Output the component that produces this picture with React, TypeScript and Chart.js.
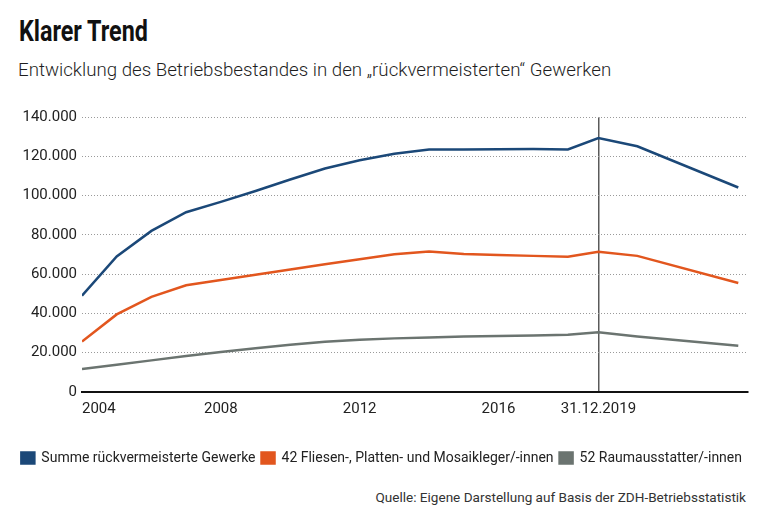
import React, { useEffect, useRef } from "react";
import { Chart, registerables } from "chart.js";

Chart.register(...registerables);

// ---- data ----
const years = [2004, 2005, 2006, 2007, 2008, 2009, 2010, 2011, 2012, 2013, 2014, 2015, 2016, 2017, 2018, 2018.88, 2020, 2022.91];
const summeGewerke = [49000, 69000, 82000, 91500, 96800, 102300, 108200, 113800, 118000, 121300, 123400, 123500, 123600, 123700, 123500, 129300, 125100, 104100];
const fliesenleger = [25700, 39500, 48400, 54300, 57000, 59700, 62400, 65000, 67600, 70100, 71500, 70300, 69700, 69300, 68900, 71400, 69300, 55500];
const raumausstatter = [11700, 13900, 16100, 18300, 20400, 22300, 24000, 25600, 26600, 27300, 27800, 28200, 28500, 28800, 29100, 30400, 28200, 23500];
const seriesLabels = [
  "Summe rückvermeisterte Gewerke",
  "42 Fliesen-, Platten- und Mosaikleger/-innen",
  "52 Raumausstatter/-innen",
];
const xTickValues = [2004, 2008, 2012, 2016, 2018.88];
const xTickLabels = ["2004", "2008", "2012", "2016", "31.12.2019"];
const markValue = 2018.88;
const xMin = 2004;
const xMax = 2023.19;
const yMax = 140000;
const yStep = 20000;

const BLUE = "#1b4878";
const ORANGE = "#e2561e";
const GREY = "#6b7470";
const FONT = "Roboto, 'Noto Sans', sans-serif";

function fmt(v: number): string {
  return String(Math.round(v)).replace(/\B(?=(\d{3})+(?!\d))/g, ".");
}

export default function App() {
  const ref = useRef<HTMLCanvasElement | null>(null);

  useEffect(() => {
    if (!ref.current) return;
    const mk = (vals: number[]) => years.map((x, i) => ({ x, y: vals[i] }));
    const chart = new Chart(ref.current, {
      type: "line",
      data: {
        datasets: [
          { label: seriesLabels[0], data: mk(summeGewerke), borderColor: BLUE, backgroundColor: BLUE, borderWidth: 2.5, pointRadius: 0, tension: 0 },
          { label: seriesLabels[1], data: mk(fliesenleger), borderColor: ORANGE, backgroundColor: ORANGE, borderWidth: 2.5, pointRadius: 0, tension: 0 },
          { label: seriesLabels[2], data: mk(raumausstatter), borderColor: GREY, backgroundColor: GREY, borderWidth: 2.5, pointRadius: 0, tension: 0 },
        ],
      },
      options: {
        animation: false,
        responsive: true,
        maintainAspectRatio: false,
        layout: { padding: { top: 17, right: 20, left: 0, bottom: 0 } },
        plugins: {
          legend: {
            position: "bottom",
            align: "end",
            labels: {
              boxWidth: 13,
              boxHeight: 11,
              padding: 6,
              color: "#222",
              font: { family: FONT, size: 14 },
            },
          },
          tooltip: { enabled: false },
        },
        scales: {
          x: {
            type: "linear",
            min: xMin,
            max: xMax,
            afterBuildTicks: (s: any) => {
              s.ticks = [...xTickValues, xMax].map((v) => ({ value: v }));
            },
            afterFit: (s: any) => {
              s.height = 53;
            },
            ticks: {
              autoSkip: false,
              maxRotation: 0,
              align: "inner",
              padding: 8,
              color: "#222",
              font: { family: FONT, size: 15 },
              callback: (v: any) => {
                const i = xTickValues.indexOf(Number(v));
                return i >= 0 ? xTickLabels[i] : "";
              },
            },
            grid: {
              drawTicks: false,
              lineWidth: 1.5,
              color: (c: any) => (c.tick && c.tick.value === markValue ? "#5a5a5a" : "rgba(0,0,0,0)"),
            },
            border: { display: true, color: "#111", width: 2 },
          },
          y: {
            min: 0,
            max: yMax,
            afterFit: (s: any) => {
              s.width = 82;
            },
            ticks: {
              stepSize: yStep,
              padding: 5,
              color: "#222",
              font: { family: FONT, size: 15 },
              callback: (v: any) => fmt(Number(v)),
            },
            grid: {
              drawTicks: false,
              lineWidth: 1,
              color: (c: any) => (c.tick && c.tick.value === 0 ? "rgba(0,0,0,0)" : "#9a9a9a"),
            },
            border: { display: false, dash: [1, 2] },
          },
        },
      },
    } as any);
    return () => chart.destroy();
  }, []);

  return (
    <div style={{ position: "absolute", left: 0, top: 0, width: 768, height: 527, background: "#fff", overflow: "hidden" }}>
      <div
        style={{
          position: "absolute",
          left: 19,
          top: 14,
          fontFamily: FONT,
          fontWeight: 700,
          fontSize: 29.5,
          lineHeight: "34px",
          color: "#111",
          whiteSpace: "nowrap",
          transform: "scaleX(0.79)",
          transformOrigin: "0 0",
        }}
      >
        Klarer Trend
      </div>
      <div
        style={{
          position: "absolute",
          left: 18,
          top: 58,
          fontFamily: FONT,
          fontWeight: 300,
          fontSize: 18.7,
          lineHeight: "24px",
          color: "#1e1e1e",
          whiteSpace: "nowrap",
        }}
      >
        Entwicklung des Betriebsbestandes in den „rückvermeisterten“ Gewerken
      </div>
      <div style={{ position: "absolute", left: 0, top: 100, width: 768, height: 375 }}>
        <canvas ref={ref} />
      </div>
      <div
        style={{
          position: "absolute",
          right: 22,
          top: 488,
          fontFamily: FONT,
          fontSize: 13.55,
          lineHeight: "18px",
          color: "#333",
          whiteSpace: "nowrap",
        }}
      >
        Quelle: Eigene Darstellung auf Basis der ZDH-Betriebsstatistik
      </div>
    </div>
  );
}
